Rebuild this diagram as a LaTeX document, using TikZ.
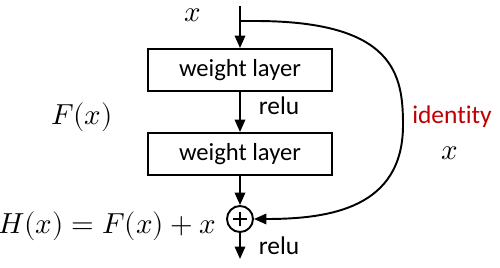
\documentclass[tikz,border=0pt]{standalone}
\usepackage{fontspec}
\setmainfont{Carlito}[Ligatures=NoCommon]
\usepackage{unicode-math}
\usetikzlibrary{arrows.meta}
\definecolor{idred}{HTML}{C00000}
\begin{document}
\begin{tikzpicture}[x=0.02cm,y=-0.02cm,
  line width=1.1pt,
  arr/.style={-{Triangle[length=2.5mm,width=2.1mm]}},
  wbox/.style={draw,minimum width=3.68cm,minimum height=0.84cm,inner sep=0pt,font=\fontsize{14}{16}\selectfont},
  lbl/.style={font=\fontsize{14.5}{16}\selectfont},
  mth/.style={inner sep=0pt,font=\fontsize{16.5}{18}\selectfont}]
\useasboundingbox (0,0) rectangle (500,267);
\coordinate (top) at (240,6);
\coordinate (split) at (240,21);
\node[wbox] (w1) at (240,70) {weight layer};
\node[wbox] (w2) at (240,154) {weight layer};
\node[draw,circle,minimum size=0.52cm,inner sep=0pt] (sum) at (240,219) {};
\draw[line width=1.3pt] ([yshift=-0.14cm]sum.center) -- ([yshift=0.14cm]sum.center)
  ([xshift=-0.14cm]sum.center) -- ([xshift=0.14cm]sum.center);
\coordinate (out) at (240,259);
\draw[arr] (top) -- (w1.north);
\draw[arr] (w1.south) -- (w2.north);
\draw[arr] (w2.south) -- (sum.north);
\draw[arr] (sum.south) -- (out);
\draw[arr] (split) -- (255,21) .. controls (395,21) and (403,75) .. (403,125)
  .. controls (403,208) and (330,219) .. (sum.east);
\node[mth] (xin) at (193,15) {$x$};
\node[lbl,anchor=west] (r1) at (252,106) {relu};
\node[lbl,anchor=west] (r2) at (252,246) {relu};
\node[mth] (fx) at (82,117) {$F(x)$};
\node[mth] (hx) at (107,226) {$H(x)=F(x)+x$};
\node[lbl,text=idred,font=\fontsize{14.5}{16}\selectfont] (id) at (452,117) {identity};
\node[mth] (xid) at (450,153) {$x$};
\end{tikzpicture}
\end{document}
